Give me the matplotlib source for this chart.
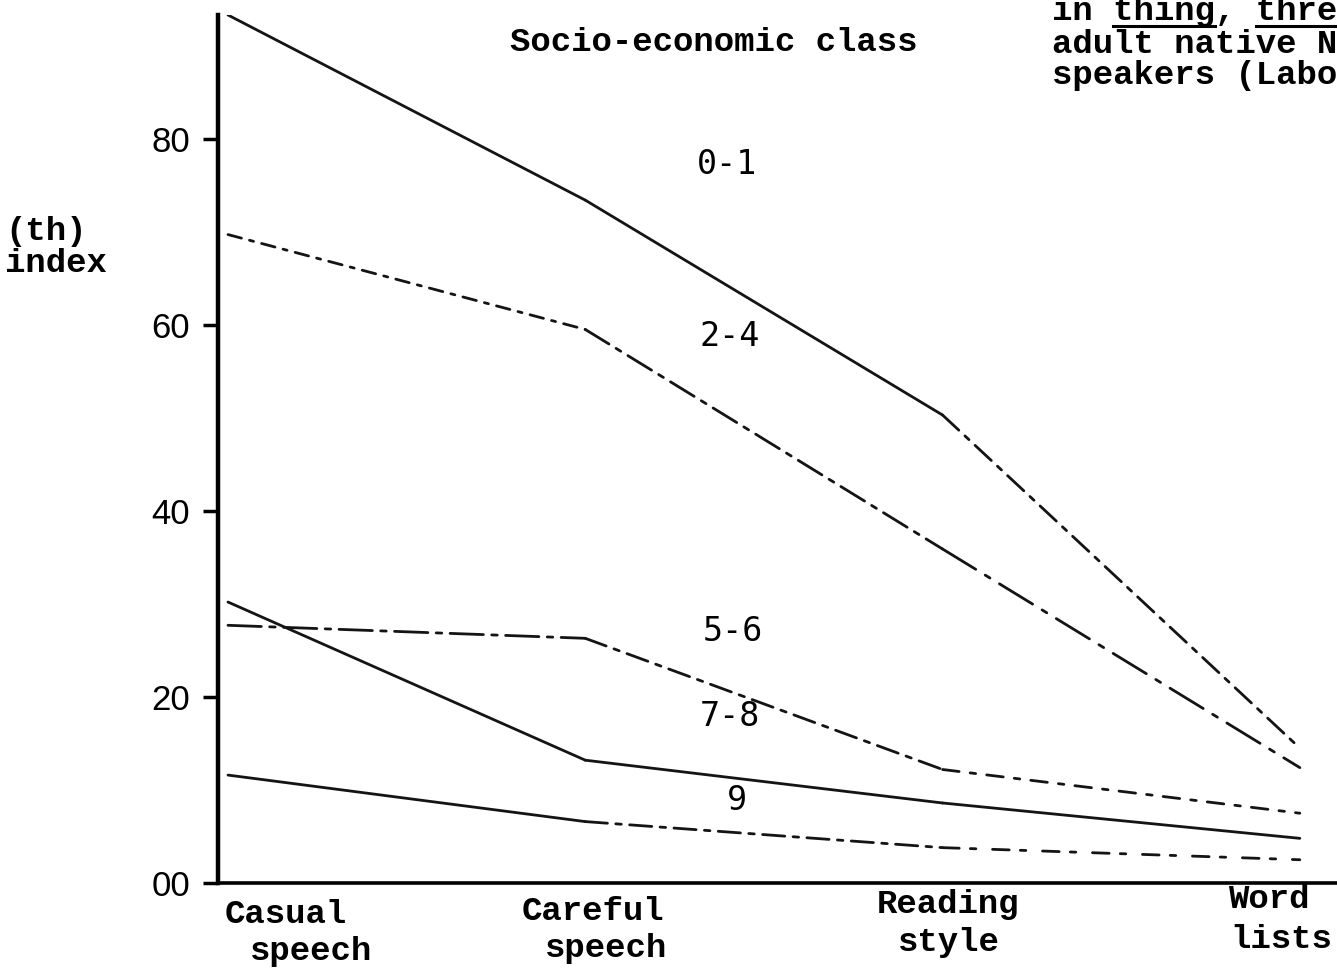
import matplotlib
matplotlib.use("Agg")
import matplotlib.pyplot as plt
from matplotlib.lines import Line2D

W, H = 1337, 971

# (th) index by style, one list per socio-economic class
styles = ["Casual speech", "Careful speech", "Reading style", "Word lists"]
classes = ["0-1", "2-4", "5-6", "7-8", "9"]
th_01 = [93.3, 73.4, 50.3, 14.5]
th_24 = [69.7, 59.5, 35.9, 12.4]
th_56 = [27.7, 26.3, 12.2, 7.5]
th_78 = [30.2, 13.2, 8.6, 4.8]
th_9 = [11.6, 6.6, 3.8, 2.5]
yticks = [0, 20, 40, 60, 80]
ytick_labels = ["00", "20", "40", "60", "80"]

series = [th_01, th_24, th_56, th_78, th_9]

# per-segment line styles (scan shows broken / dash-dot lines)
dd = (0, (8, 3, 2, 3))
segstyles = [
    ["-", "-", dd],
    [(0, (5, 3, 1.5, 3)), (0, (10, 3, 2, 3)), (0, (14, 4, 2, 4))],
    [(0, (12, 3, 2, 3)), (0, (8, 3, 2, 3)), (0, (6, 4, 2, 4))],
    ["-", "-", "-"],
    ["-", dd, (0, (6, 4, 2, 6))],
]

# label placement (data coords) for class names
class_pos = [(1.397, 77.2), (1.405, 58.7), (1.413, 27.0), (1.405, 17.9), (1.425, 8.9)]

MONO = "Liberation Mono"
SANS = "Liberation Sans"


def px(x, y):
    return x / W, 1 - y / H


fig = plt.figure(figsize=(W / 100, H / 100), dpi=100)
ax = fig.add_axes([218 / W, (H - 883) / H, (W - 218) / W, (883 - 15) / H])

xs = list(range(len(styles)))
for vals, segs in zip(series, segstyles):
    for i, ls in enumerate(segs):
        ax.plot(xs[i:i + 2], vals[i:i + 2], color="0.08", lw=2.0,
                linestyle=ls, solid_capstyle="round", dash_capstyle="round")

for name, (cx, cy) in zip(classes, class_pos):
    ax.text(cx, cy, name, ha="center", va="center", fontsize=24,
            family="DejaVu Sans Mono")

ax.set_xlim(-0.028, 3.104)
ax.set_ylim(0, 93.3)
ax.set_xticks([])
ax.set_yticks(yticks)
ax.set_yticklabels(ytick_labels, fontsize=25, family=SANS)
ax.tick_params(axis="y", direction="out", length=11, width=2.5, pad=9)
for s in ("top", "right"):
    ax.spines[s].set_visible(False)
ax.spines["left"].set_linewidth(3.2)
ax.spines["bottom"].set_linewidth(2.6)

# category labels under the axis, two lines each
label_left = [(225, 250), (522, 545), (877, 898), (1228, 1230)]
label_base = [(923, 960), (920, 957), (913, 951), (908, 948)]
for name, (x1, x2), (b1, b2) in zip(styles, label_left, label_base):
    w1, w2 = name.split(" ")
    fig.text(*px(x1, b1), w1, ha="left", va="baseline", fontsize=24.5,
             family=MONO, weight="bold")
    fig.text(*px(x2, b2), w2, ha="left", va="baseline", fontsize=24.5,
             family=MONO, weight="bold")

fig.text(*px(5, 240), "(th)", ha="left", va="baseline", fontsize=24.5,
         family=MONO, weight="bold")
fig.text(*px(5, 272), "index", ha="left", va="baseline", fontsize=24.5,
         family=MONO, weight="bold")
fig.text(*px(510, 51), "Socio-economic class", ha="left", va="baseline",
         fontsize=24.5, family=MONO, weight="bold")

# caption, cut off by the right edge of the page in the scan
cap = ["in thing, thre", "adult native N", "speakers (Labo"]
cap_base = [20, 53, 84]
cap_texts = []
for line, b in zip(cap, cap_base):
    cap_texts.append(fig.text(*px(1052, b), line, ha="left", va="baseline",
                              fontsize=24.5, family=MONO, weight="bold"))

# underline "thing" and "thre" (monospace, so char width = text width / len)
fig.canvas.draw()
bb = cap_texts[0].get_window_extent()
cw = bb.width / len(cap[0])
for start, n in [(3, 5), (10, 4)]:
    x0 = bb.x0 + start * cw
    x1 = x0 + n * cw
    fig.add_artist(Line2D([x0 / W, x1 / W], [1 - 26 / H, 1 - 26 / H],
                          transform=fig.transFigure, color="black", lw=2.2))

fig.savefig("out.png", dpi=100)
plt.close(fig)
